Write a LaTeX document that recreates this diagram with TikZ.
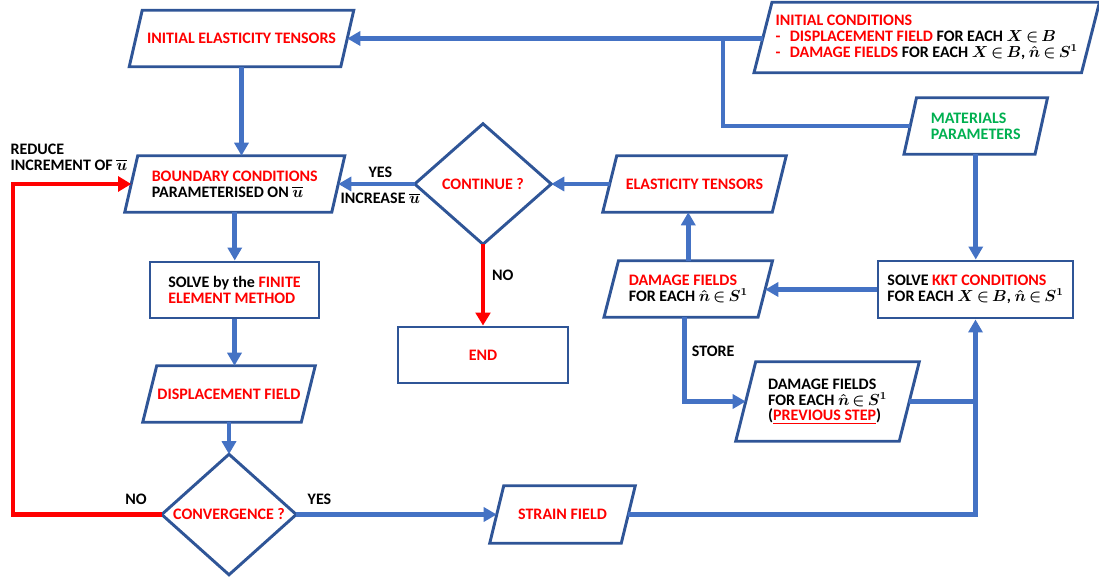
\documentclass[tikz,border=0pt]{standalone}
\usepackage{amsmath,amssymb}
\usepackage{fontspec}
\setmainfont{Carlito}
\usetikzlibrary{arrows.meta}
\definecolor{boxblue}{HTML}{2F5597}
\definecolor{lineblue}{HTML}{4472C4}
\definecolor{flowred}{HTML}{FF0000}
\definecolor{matgreen}{HTML}{00B050}
\thickmuskip=3mu plus 1mu
\newcommand\paraoutline[2]{\draw[outline] ([shift={(#2/2,0)}]#1.north west) -- ([shift={(#2/2,0)}]#1.north east) -- ([shift={(-#2/2,0)}]#1.south east) -- ([shift={(-#2/2,0)}]#1.south west) -- cycle;}
\newcommand\diamondoutline[1]{\draw[outline] (#1.north) -- (#1.east) -- (#1.south) -- (#1.west) -- cycle;}
\newcommand\ubar{$\overline{\boldsymbol{u}}$}
\newcommand\XinB{$\boldsymbol{X\in B}$}
\newcommand\ninS{$\boldsymbol{\hat{n}\in S^{1}}$}
\begin{document}
\begin{tikzpicture}[x=0.75pt,y=-0.75pt,
  every node/.style={font=\fontsize{12}{11.8}\selectfont\bfseries},
  shapebox/.style 2 args={draw=none, inner sep=0pt, minimum width=#1*0.75pt, minimum height=#2*0.75pt, align=left},
  outline/.style={draw=boxblue, line width=2.2pt, line join=miter},
  rectbox/.style={draw=boxblue, line width=2.2pt},
  flow/.style={draw=lineblue, line width=3.4pt, -{Triangle[width=10.5pt,length=9.75pt]}},
  plain/.style={draw=lineblue, line width=3.4pt},
  noflow/.style={draw=flowred, line width=3.6pt, -{Triangle[width=11pt,length=9.75pt]}},
  lbl/.style={text=black, inner sep=1pt}
]
\useasboundingbox (0,0) rectangle (1099,580);

% ---- nodes ----
\node[shapebox={211}{56}, text=flowred] (ie) at (241.5,38.5) {INITIAL ELASTICITY TENSORS};
\paraoutline{ie}{13}

\node[shapebox={327}{70}] (ic) at (926.75,37.5) {\textcolor{flowred}{INITIAL CONDITIONS}\\
\textcolor{flowred}{-\hspace{7pt}DISPLACEMENT FIELD} FOR EACH \XinB\\
\textcolor{flowred}{-\hspace{7pt}DAMAGE FIELDS} FOR EACH \XinB, \ninS};
\paraoutline{ic}{18}

\node[shapebox={130.5}{56}, text=matgreen] (mp) at (975.75,126) {MATERIALS\\PARAMETERS};
\paraoutline{mp}{12.5}

\node[shapebox={206.5}{56}] (bc) at (234.75,184) {\textcolor{flowred}{BOUNDARY CONDITIONS}\\PARAMETERISED ON \ubar};
\paraoutline{bc}{13}

\node[shapebox={136}{120}, text=flowred] (cont) at (483,184) {CONTINUE ?};
\diamondoutline{cont}

\node[shapebox={169}{56}, text=flowred] (et) at (694.5,184) {ELASTICITY TENSORS};
\paraoutline{et}{14}

\node[shapebox={169}{56}, rectbox] (fem) at (234.5,290) {SOLVE by the \textcolor{flowred}{FINITE}\\\textcolor{flowred}{ELEMENT METHOD}};

\node[shapebox={158}{56}, text=flowred] (disp) at (229,394) {DISPLACEMENT FIELD};
\paraoutline{disp}{14}

\node[shapebox={134}{120}, text=flowred] (conv) at (229,514.5) {CONVERGENCE ?};
\diamondoutline{conv}

\node[shapebox={131}{57}, text=flowred] (strain) at (562.5,514.5) {STRAIN FIELD};
\paraoutline{strain}{14}

\node[shapebox={170}{56}, rectbox, text=flowred] (endbox) at (483,355) {END};

\node[shapebox={153.5}{56}] (df) at (688.25,289) {\textcolor{flowred}{DAMAGE FIELDS}\\FOR EACH \ninS};
\paraoutline{df}{14.5}

\node[shapebox={195}{57}, rectbox] (kkt) at (975.5,289.5) {SOLVE \textcolor{flowred}{KKT CONDITIONS}\\FOR EACH \XinB, \ninS};

\node[shapebox={163}{79}] (dfp) at (827.5,401.5) {DAMAGE FIELDS\\FOR EACH \ninS\\(\textcolor{flowred}{\underline{PREVIOUS STEP}})};
\paraoutline{dfp}{20}

% ---- connectors ----
\coordinate (j1) at (723,38.5);
\coordinate (redcorner) at (13,514.5);
\draw[flow] (ic.west |- ie.east) -- (ie.east);
\draw[plain] (j1) |- (mp.west);
\draw[flow] (ie.south) -- (ie.south |- bc.north);
\draw[flow] (bc.south) -- (bc.south |- fem.north);
\draw[flow] (fem.south) -- (fem.south |- disp.north);
\draw[flow] (disp.south) -- (conv.north);
\draw[flow] (conv.east) -- (strain.west);
\draw[flow] (strain.east) -| (kkt.south);
\draw[plain] (dfp.east) -- (dfp.east -| kkt.south);
\draw[flow] (mp.south) -- (mp.south |- kkt.north);
\draw[flow] (kkt.west) -- (kkt.west -| df.east);
\draw[flow] (df.north) -- (df.north |- et.south);
\draw[flow] ([shift={(-4,0)}]df.south) |- (dfp.west) node[lbl, pos=0.2, right=3pt] {STORE};
\draw[flow] (et.west) -- (cont.east);
\draw[flow] (cont.west) -- (bc.east) node[lbl, pos=0.45, above=2pt] {YES} node[lbl, pos=0.45, below=4pt] {INCREASE \ubar};
\draw[noflow] (cont.south) -- (endbox.north) node[lbl, pos=0.38, right=4pt] {NO};
\draw[noflow] (conv.west) -- (redcorner) |- (bc.west);

% ---- labels ----
\node[lbl] (nolbl) at (136,499) {NO};
\node[lbl] (yeslbl) at (319.5,499) {YES};
\node[lbl, anchor=west, align=left] (reduce) at (9,157) {REDUCE\\INCREMENT OF \ubar};
\end{tikzpicture}
\end{document}
